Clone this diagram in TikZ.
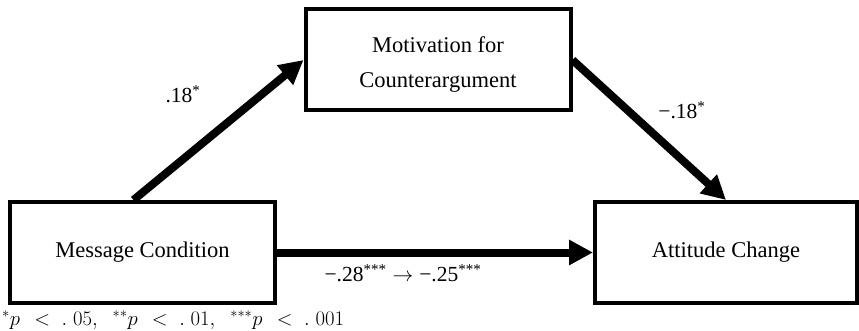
\documentclass[tikz,border=0pt]{standalone}
\usepackage{fontspec}
\setmainfont{Liberation Serif}
\usetikzlibrary{arrows.meta,calc}
\begin{document}
\begin{tikzpicture}[x=1pt,y=-1pt,
  box/.style={draw,line width=4pt,minimum width=265pt,minimum height=101pt,inner sep=0pt,font=\fontsize{22.5}{35}\selectfont},
  boxtext/.style={align=center,inner sep=0pt,font=\fontsize{22.5}{35}\selectfont},
  conn/.style={line width=8pt,-{Triangle[length=24pt,width=24pt]}},
  lbl/.style={font=\fontsize{21.5}{26}\selectfont}]
\useasboundingbox (0,0) rectangle (859,331);
\node[box] (msg) at (142.5,252.5) {Message Condition};
\node[box] (mot) at (438,60) {};
\node[boxtext] (motT) at ($(mot.center)+(0,5)$) {Motivation for\\Counterargument};
\node[box,minimum width=262pt] (att) at (726,252.5) {Attitude Change};
\draw[conn] ($(msg.north)+(-9,0)$) -- (mot.west);
\draw[conn] (mot.east) -- (att.north);
\draw[conn] (msg.east) -- (att.west);
\node[lbl] (l1) at (183,94) {.18\textsuperscript{*}};
\node[lbl] (l2) at (682,110) {−.18\textsuperscript{*}};
\node[lbl] (l3) at (403,273) {−.28\textsuperscript{***}\;$\rightarrow$\;−.25\textsuperscript{***}};
\node[anchor=west,inner sep=0pt,font=\fontsize{20}{22}\selectfont] (fn) at (2,320) {$^{*}p\ \,<\;.\;05,\;\;^{**}p\ \,<\;.\;01,\;\;^{***}p\ \,<\;.\;001$};
\end{tikzpicture}
\end{document}
